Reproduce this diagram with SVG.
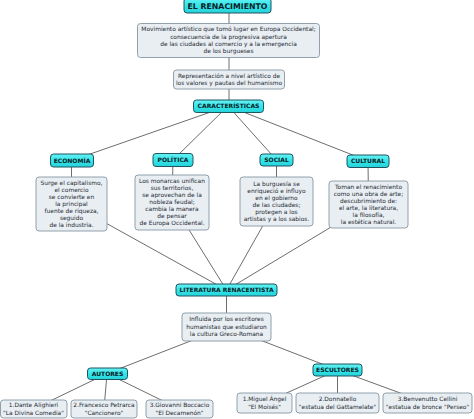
<svg xmlns="http://www.w3.org/2000/svg" width="474" height="419" viewBox="0 0 474 419">
<defs>
<linearGradient id="cy" x1="0" y1="0" x2="0" y2="1">
<stop offset="0" stop-color="#66f2f4"/>
<stop offset="0.5" stop-color="#33e6ea"/>
<stop offset="1" stop-color="#26d2d9"/>
</linearGradient>
</defs>
<style>
.k{fill:url(#cy);stroke:#1f5560;stroke-width:1}
.d{fill:#e8eef2;stroke:#8796a3;stroke-width:0.9}
.kt{font-family:"DejaVu Sans",Verdana,sans-serif;font-weight:bold;font-size:6px;fill:#0b1a24;text-anchor:middle}
.dt{font-family:"DejaVu Sans",Verdana,sans-serif;font-size:5.9px;fill:#1e2a33;text-anchor:middle}
.c line{stroke:#6e6e6e;stroke-width:1}
</style>
<rect width="474" height="419" fill="#ffffff"/>
<g class="c">
<line x1="229" y1="6" x2="229" y2="106"/>
<line x1="228" y1="106" x2="71.5" y2="160.5"/>
<line x1="228" y1="106" x2="173" y2="160"/>
<line x1="228" y1="106" x2="276.5" y2="160"/>
<line x1="228" y1="106" x2="368" y2="161"/>
<line x1="71.5" y1="160" x2="71.5" y2="204"/>
<line x1="173" y1="160" x2="172" y2="202"/>
<line x1="276.5" y1="160" x2="276.5" y2="201"/>
<line x1="368" y1="161" x2="368.5" y2="204"/>
<line x1="71.5" y1="204" x2="226.5" y2="290"/>
<line x1="172" y1="202.5" x2="226.5" y2="290"/>
<line x1="276.5" y1="201.5" x2="226.5" y2="290"/>
<line x1="368.5" y1="204.5" x2="226.5" y2="290"/>
<line x1="226.5" y1="290" x2="226.5" y2="327"/>
<line x1="226.5" y1="327" x2="107" y2="373.5"/>
<line x1="226.5" y1="327" x2="337.5" y2="370"/>
<line x1="107" y1="373.5" x2="33.5" y2="409"/>
<line x1="107" y1="373.5" x2="104" y2="409"/>
<line x1="107" y1="373.5" x2="179.5" y2="409"/>
<line x1="337.5" y1="370" x2="264.5" y2="403"/>
<line x1="337.5" y1="370" x2="337.5" y2="403"/>
<line x1="337.5" y1="370" x2="427.5" y2="403"/>
</g>
<g id="titulo">
<rect class="k" x="184" y="-2" width="87" height="15" rx="3"/>
<text class="kt" x="227.5" y="9" style="font-size:7.8px">EL RENACIMIENTO</text>
</g>
<g id="definicion">
<rect class="d" x="137.5" y="23.5" width="182" height="34" rx="3"/>
<text class="dt" x="228.5" y="31.2">Movimiento artístico que tomó lugar en Europa Occidental;</text>
<text class="dt" x="228.5" y="38.5">consecuencia de la progresiva apertura</text>
<text class="dt" x="228.5" y="45.8">de las ciudades al comercio y a la emergencia</text>
<text class="dt" x="228.5" y="53.1">de los burgueses</text>
</g>
<g id="representacion">
<rect class="d" x="173.5" y="70" width="111" height="19" rx="3"/>
<text class="dt" x="229" y="78">Representación a nivel artístico de</text>
<text class="dt" x="229" y="85.3">los valores y pautas del humanismo</text>
</g>
<g id="caracteristicas">
<rect class="k" x="193.5" y="100" width="70" height="12.5" rx="3"/>
<text class="kt" x="228.5" y="108.4">CARACTERÍSTICAS</text>
</g>
<g id="economia">
<rect class="k" x="50.5" y="154" width="43" height="13" rx="3"/>
<text class="kt" x="72" y="162.6">ECONOMÍA</text>
</g>
<g id="politica">
<rect class="k" x="153" y="153.5" width="40" height="13" rx="3"/>
<text class="kt" x="173" y="162.1">POLÍTICA</text>
</g>
<g id="social">
<rect class="k" x="260" y="154" width="33" height="12" rx="3"/>
<text class="kt" x="276.5" y="162.1">SOCIAL</text>
</g>
<g id="cultural">
<rect class="k" x="347" y="155" width="42" height="12.5" rx="3"/>
<text class="kt" x="368" y="163.4">CULTURAL</text>
</g>
<g id="economia-desc">
<rect class="d" x="36" y="177" width="71" height="54" rx="3"/>
<text class="dt" x="71.5" y="185.2">Surge el capitalismo,</text>
<text class="dt" x="71.5" y="192.2">el comercio</text>
<text class="dt" x="71.5" y="199.2">se convierte en</text>
<text class="dt" x="71.5" y="206.2">la principal</text>
<text class="dt" x="71.5" y="213.2">fuente de riqueza,</text>
<text class="dt" x="71.5" y="220.2">seguido</text>
<text class="dt" x="71.5" y="227.2">de la industria.</text>
</g>
<g id="politica-desc">
<rect class="d" x="135" y="175" width="74" height="55" rx="3"/>
<text class="dt" x="172" y="183.2">Los monarcas unifican</text>
<text class="dt" x="172" y="190.2">sus territorios,</text>
<text class="dt" x="172" y="197.2">se aprovechan de la</text>
<text class="dt" x="172" y="204.2">nobleza feudal;</text>
<text class="dt" x="172" y="211.2">cambia la manera</text>
<text class="dt" x="172" y="218.2">de pensar</text>
<text class="dt" x="172" y="225.2">de Europa Occidental.</text>
</g>
<g id="social-desc">
<rect class="d" x="240" y="177" width="73" height="49" rx="3"/>
<text class="dt" x="276.5" y="186.2">La burguesía se</text>
<text class="dt" x="276.5" y="193.2">enriqueció e influyo</text>
<text class="dt" x="276.5" y="200.2">en el gobierno</text>
<text class="dt" x="276.5" y="207.2">de las ciudades;</text>
<text class="dt" x="276.5" y="214.2">protegen a los</text>
<text class="dt" x="276.5" y="221.2">artistas y a los sabios.</text>
</g>
<g id="cultural-desc">
<rect class="d" x="329" y="181" width="79" height="47" rx="3"/>
<text class="dt" x="368.5" y="189.2">Toman el renacimiento</text>
<text class="dt" x="368.5" y="196.2">como una obra de arte;</text>
<text class="dt" x="368.5" y="203.2">descubrimiento de:</text>
<text class="dt" x="368.5" y="210.2">el arte, la literatura,</text>
<text class="dt" x="368.5" y="217.2">la filosofía,</text>
<text class="dt" x="368.5" y="224.2">la estética natural.</text>
</g>
<g id="literatura">
<rect class="k" x="176" y="284" width="101" height="12" rx="3"/>
<text class="kt" x="226.5" y="292.1">LITERATURA RENACENTISTA</text>
</g>
<g id="influida">
<rect class="d" x="182" y="313" width="89" height="28" rx="3"/>
<text class="dt" x="226.5" y="321.2">Influida por los escritores</text>
<text class="dt" x="226.5" y="328.5">humanistas que estudiaron</text>
<text class="dt" x="226.5" y="335.8">la cultura Greco-Romana</text>
</g>
<g id="autores">
<rect class="k" x="87.5" y="368" width="40" height="11.5" rx="3"/>
<text class="kt" x="107.5" y="375.9">AUTORES</text>
</g>
<g id="escultores">
<rect class="k" x="313" y="364" width="49" height="12" rx="3"/>
<text class="kt" x="337.5" y="372.1">ESCULTORES</text>
</g>
<g id="dante">
<rect class="d" x="0.5" y="400" width="66.5" height="18" rx="3"/>
<text class="dt" x="33.5" y="407.2">1.Dante Alighieri</text>
<text class="dt" x="33.5" y="414.5">"La Divina Comedia"</text>
</g>
<g id="petrarca">
<rect class="d" x="71" y="400" width="66" height="18" rx="3"/>
<text class="dt" x="104" y="407.2">2.Francesco Petrarca</text>
<text class="dt" x="104" y="414.5">"Cancionero"</text>
</g>
<g id="boccaccio">
<rect class="d" x="146" y="400" width="67" height="18" rx="3"/>
<text class="dt" x="179.5" y="407.2">3.Giovanni Boccacio</text>
<text class="dt" x="179.5" y="414.5">"El Decamenón"</text>
</g>
<g id="miguel-angel">
<rect class="d" x="237" y="393" width="55" height="20" rx="3"/>
<text class="dt" x="264.5" y="401.2">1.Miguel Ángel</text>
<text class="dt" x="264.5" y="408.7">"El Moisés"</text>
</g>
<g id="donnatello">
<rect class="d" x="296" y="393" width="83" height="20" rx="3"/>
<text class="dt" x="337.5" y="401.2">2.Donnatello</text>
<text class="dt" x="337.5" y="408.7">"estatua del Gattamelate"</text>
</g>
<g id="cellini">
<rect class="d" x="383" y="393" width="89" height="20" rx="3"/>
<text class="dt" x="427.5" y="401.2">3.Benvenutto Cellini</text>
<text class="dt" x="427.5" y="408.7">"estatua de bronce "Perseo"</text>
</g>
</svg>
